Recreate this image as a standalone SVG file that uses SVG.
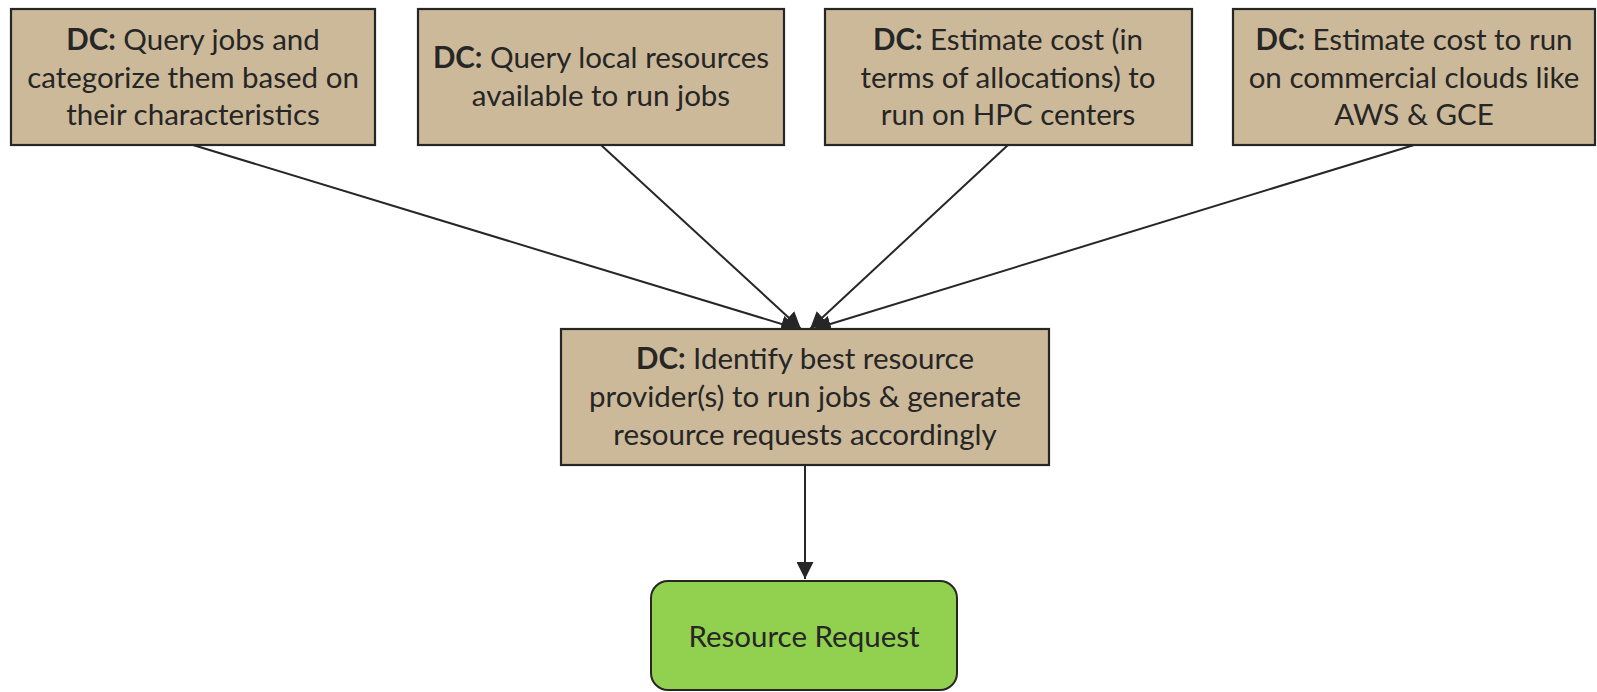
<svg xmlns="http://www.w3.org/2000/svg" width="1597" height="692" viewBox="0 0 1597 692">
<style>
.box{fill:#CCB999;stroke:#262626;stroke-width:2.2}
.res{fill:#92D050;stroke:#262626;stroke-width:2}
.t{font-family:Lato,"Liberation Sans",sans-serif;font-size:29.5px;fill:#262626;text-anchor:middle}
.b{font-weight:bold}
.edge{stroke:#262626;stroke-width:2;fill:none}
</style>
<defs>
<marker id="ah" markerUnits="userSpaceOnUse" markerWidth="17" markerHeight="17" refX="17" refY="8.5" orient="auto">
<path d="M0,0 L17,8.5 L0,17 Z" fill="#262626"/>
</marker>
</defs>
<g id="connectors">
<line class="edge" x1="193" y1="145" x2="798" y2="329" marker-end="url(#ah)"/>
<line class="edge" x1="601" y1="145" x2="801" y2="329" marker-end="url(#ah)"/>
<line class="edge" x1="1008" y1="145" x2="810" y2="329" marker-end="url(#ah)"/>
<line class="edge" x1="1414" y1="145" x2="814" y2="329" marker-end="url(#ah)"/>
<line class="edge" x1="805" y1="465" x2="805" y2="579" marker-end="url(#ah)"/>
</g>
<g id="n1">
<rect class="box" x="11" y="9" width="364" height="136"/>
<text class="t" x="193" y="50"><tspan class="b">DC:</tspan> Query jobs and</text>
<text class="t" x="193" y="88">categorize them based on</text>
<text class="t" x="193" y="125">their characteristics</text>
</g>
<g id="n2">
<rect class="box" x="418" y="9" width="366" height="136"/>
<text class="t" x="601" y="68"><tspan class="b">DC:</tspan> Query local resources</text>
<text class="t" x="601" y="106">available to run jobs</text>
</g>
<g id="n3">
<rect class="box" x="825" y="9" width="367" height="136"/>
<text class="t" x="1008" y="50"><tspan class="b">DC:</tspan> Estimate cost (in</text>
<text class="t" x="1008" y="88">terms of allocations) to</text>
<text class="t" x="1008" y="125">run on HPC centers</text>
</g>
<g id="n4">
<rect class="box" x="1233" y="9" width="362" height="136"/>
<text class="t" x="1414" y="50"><tspan class="b">DC:</tspan> Estimate cost to run</text>
<text class="t" x="1414" y="88">on commercial clouds like</text>
<text class="t" x="1414" y="125">AWS &amp; GCE</text>
</g>
<g id="n5">
<rect class="box" x="561" y="329" width="488" height="136"/>
<text class="t" x="805" y="369"><tspan class="b">DC:</tspan> Identify best resource</text>
<text class="t" x="805" y="407">provider(s) to run jobs &amp; generate</text>
<text class="t" x="805" y="445">resource requests accordingly</text>
</g>
<g id="n6">
<rect class="res" x="651" y="581" width="306" height="109" rx="17" ry="17"/>
<text class="t" x="804" y="647">Resource Request</text>
</g>
</svg>
